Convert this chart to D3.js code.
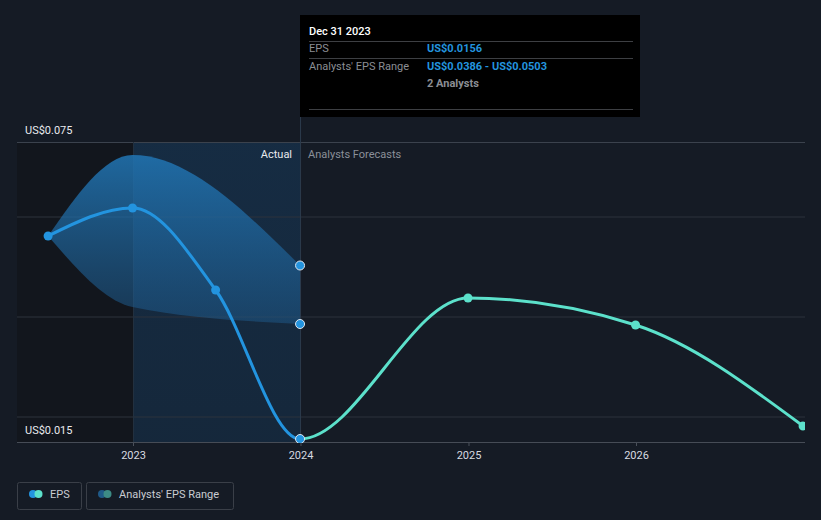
<!DOCTYPE html>
<html>
<head>
<meta charset="utf-8">
<script src="https://cdn.jsdelivr.net/npm/d3@7/dist/d3.min.js"></script>
<style>
  html, body { margin: 0; padding: 0; background: #151b25; }
  svg { display: block; font-family: Roboto, "Open Sans", sans-serif; }
</style>
</head>
<body>
<svg id="chart" width="821" height="520"></svg>
<script>
// ---- data ----
const actualDates = ["2022-06-30", "2022-12-31", "2023-06-30", "2023-12-31"];
const epsActual = [0.0562, 0.0618, 0.0454, 0.0156];
const rangeDates = ["2022-06-30", "2022-12-31", "2023-12-31"];
const rangeLow = [0.0562, 0.0420, 0.0386];
const rangeHigh = [0.0562, 0.0724, 0.0503];
const forecastDates = ["2024-12-31", "2025-12-31", "2026-12-31"];
const epsForecast = [0.0438, 0.0384, 0.0182];
const xTickYears = [2023, 2024, 2025, 2026];
const yLabelValues = [0.075, 0.015];
const gridValues = [0.02, 0.04, 0.06];
const tooltipTitle = "Dec 31 2023";
const tooltipRows = [
  ["EPS", "US$0.0156"],
  ["Analysts' EPS Range", "US$0.0386 - US$0.0503"]
];
const tooltipNote = "2 Analysts";
const legendItems = ["EPS", "Analysts' EPS Range"];

const parse = d3.timeParse("%Y-%m-%d");
const svg = d3.select("#chart");

const x = d3.scaleTime()
  .domain([new Date(2023, 0, 1), new Date(2026, 0, 1)])
  .range([133, 636]);
const y = d3.scaleLinear().domain([0.015, 0.075]).range([442, 142]);
const left = 17, right = 805;
const x2023 = x(new Date(2023, 0, 1));
const xNow = x(parse("2023-12-31"));

const defs = svg.append("defs");
defs.append("clipPath").attr("id", "clip")
  .append("rect").attr("x", left).attr("y", 0).attr("width", right - left).attr("height", 443);
defs.append("clipPath").attr("id", "clipPast")
  .append("rect").attr("x", left).attr("y", 0).attr("width", xNow - left).attr("height", 450);
defs.append("clipPath").attr("id", "clipFuture")
  .append("rect").attr("x", xNow).attr("y", 0).attr("width", right - xNow).attr("height", 450);

const bandGrad = defs.append("linearGradient").attr("id", "bandGrad")
  .attr("x1", 0).attr("y1", 0).attr("x2", 0).attr("y2", 1);
bandGrad.append("stop").attr("offset", "0%").attr("stop-color", "#2176b5").attr("stop-opacity", 0.85);
bandGrad.append("stop").attr("offset", "100%").attr("stop-color", "#1f5f94").attr("stop-opacity", 0.45);

const hiGrad = defs.append("linearGradient").attr("id", "hiGrad")
  .attr("x1", 0).attr("y1", 0).attr("x2", 0).attr("y2", 1);
hiGrad.append("stop").attr("offset", "0%").attr("stop-color", "#16304a").attr("stop-opacity", 0.8);
hiGrad.append("stop").attr("offset", "100%").attr("stop-color", "#15304a").attr("stop-opacity", 0.6);

// dark past region
svg.append("rect").attr("x", left).attr("y", y(0.075)).attr("width", x2023 - left)
  .attr("height", y(0.015) - y(0.075)).attr("fill", "#11151c").attr("opacity", 0.8);
// actual highlight region
svg.append("rect").attr("x", x2023).attr("y", y(0.075)).attr("width", xNow - x2023)
  .attr("height", y(0.015) - y(0.075)).attr("fill", "url(#hiGrad)");

// gridlines
svg.append("g").selectAll("line").data(gridValues).join("line")
  .attr("x1", left).attr("x2", right)
  .attr("y1", d => y(d)).attr("y2", d => y(d))
  .attr("stroke", "#2c323d").attr("stroke-width", 1);
svg.append("line").attr("x1", left).attr("x2", right)
  .attr("y1", y(0.075) + 0.5).attr("y2", y(0.075) + 0.5)
  .attr("stroke", "#3b424d");

// vertical faint line at 2023
svg.append("line").attr("x1", x2023 + 0.5).attr("x2", x2023 + 0.5)
  .attr("y1", y(0.075)).attr("y2", y(0.015))
  .attr("stroke", "#22303f").attr("stroke-width", 1);

// now line
svg.append("line").attr("x1", xNow + 0.5).attr("x2", xNow + 0.5)
  .attr("y1", 15).attr("y2", y(0.015))
  .attr("stroke", "#2c3b4d").attr("stroke-width", 1);

// x axis
const xAxis = d3.axisBottom(x)
  .tickValues(xTickYears.map(yr => new Date(yr, 0, 1)))
  .tickFormat(d3.timeFormat("%Y")).tickSize(4).tickSizeOuter(0);
const ax = svg.append("g").attr("transform", `translate(0,${y(0.015)})`).call(xAxis);
ax.select(".domain").remove();
ax.selectAll(".tick line").attr("stroke", "#4a505a");
ax.selectAll(".tick text").attr("fill", "#d7dae0").attr("font-size", 11).attr("dy", "0.95em")
  .attr("font-family", "Roboto, sans-serif");
svg.append("line").attr("x1", left).attr("x2", right)
  .attr("y1", y(0.015) + 0.5).attr("y2", y(0.015) + 0.5).attr("stroke", "#464c56");

// y labels
svg.append("g").selectAll("text").data(yLabelValues).join("text")
  .attr("x", 25).attr("y", d => y(d) - 8)
  .attr("fill", "#e8eaee").attr("font-size", 11)
  .text(d => "US$" + d3.format(".3f")(d));

// Actual / Analysts Forecasts labels
svg.append("text").attr("x", xNow - 8).attr("y", y(0.075) + 16)
  .attr("text-anchor", "end").attr("fill", "#e8eaee").attr("font-size", 11).text("Actual");
svg.append("text").attr("x", xNow + 8).attr("y", y(0.075) + 16)
  .attr("fill", "#8b9099").attr("font-size", 11).text("Analysts Forecasts");

// band
const g = svg.append("g").attr("clip-path", "url(#clip)");
const bandData = rangeDates.map((d, i) => ({ date: parse(d), lo: rangeLow[i], hi: rangeHigh[i] }));
g.append("path").datum(bandData)
  .attr("d", d3.area().curve(d3.curveMonotoneX)
    .x(d => x(d.date)).y0(d => y(d.lo)).y1(d => y(d.hi)))
  .attr("fill", "url(#bandGrad)");

// lines: one smooth series, coloured by period
const actualData = actualDates.map((d, i) => ({ date: parse(d), v: epsActual[i] }));
const forecastData = forecastDates.map((d, i) => ({ date: parse(d), v: epsForecast[i] }));
const allData = actualData.concat(forecastData);
const line = d3.line().curve(d3.curveMonotoneX).x(d => x(d.date)).y(d => y(d.v));
g.append("path").datum(allData).attr("d", line).attr("clip-path", "url(#clipFuture)")
  .attr("fill", "none").attr("stroke", "#5ce1cb").attr("stroke-width", 3);
g.append("path").datum(allData).attr("d", line).attr("clip-path", "url(#clipPast)")
  .attr("fill", "none").attr("stroke", "#2394df").attr("stroke-width", 3);

// points
g.selectAll(".fp").data(forecastData).join("circle")
  .attr("cx", d => x(d.date)).attr("cy", d => y(d.v)).attr("r", 4.5)
  .attr("fill", "#5ce1cb");
g.selectAll(".ap").data(actualData.slice(0, 3)).join("circle")
  .attr("cx", d => x(d.date)).attr("cy", d => y(d.v)).attr("r", 4.5)
  .attr("fill", "#2394df");
const last = bandData[bandData.length - 1];
g.selectAll(".np").data([last.hi, last.lo, epsActual[epsActual.length - 1]]).join("circle")
  .attr("cx", x(last.date)).attr("cy", d => y(d)).attr("r", 4.5)
  .attr("fill", "#2394df").attr("stroke", "#dfe6ee").attr("stroke-width", 1);

// tooltip
const tt = svg.append("g");
tt.append("rect").attr("x", 300).attr("y", 15).attr("width", 340).attr("height", 102).attr("fill", "#000");
tt.append("text").attr("x", 309).attr("y", 35).attr("fill", "#fff").attr("font-size", 11)
  .attr("font-weight", 500).text(tooltipTitle);
[41.5, 58.5, 109.5].forEach(yy => tt.append("line").attr("x1", 309).attr("x2", 633)
  .attr("y1", yy).attr("y2", yy).attr("stroke", "#3d3f43"));
tooltipRows.forEach((r, i) => {
  const yy = 52 + i * 18;
  tt.append("text").attr("x", 309).attr("y", yy).attr("fill", "#8b8e94").attr("font-size", 11).text(r[0]);
  tt.append("text").attr("x", 427).attr("y", yy).attr("fill", "#2394df").attr("font-size", 11)
    .attr("font-weight", 700).text(r[1]);
});
tt.append("text").attr("x", 427).attr("y", 87).attr("fill", "#8b8e94").attr("font-size", 11)
  .attr("font-weight", 700).text(tooltipNote);

// legend
const lg = svg.append("g");
const legendBoxes = [
  { x: 17.5, w: 64, c1: "#2394df", c2: "#5ce1cb" },
  { x: 86.5, w: 147, c1: "#1f5a88", c2: "#3d8b85" }
];
legendItems.forEach((name, i) => {
  const b = legendBoxes[i];
  lg.append("rect").attr("x", b.x).attr("y", 482.5).attr("width", b.w).attr("height", 27)
    .attr("rx", 2).attr("fill", "none").attr("stroke", "#3a3f48");
  lg.append("circle").attr("cx", b.x + 15.5).attr("cy", 494).attr("r", 4).attr("fill", b.c1);
  lg.append("circle").attr("cx", b.x + 21).attr("cy", 494).attr("r", 4).attr("fill", b.c2);
  lg.append("text").attr("x", b.x + 32.5).attr("y", 498).attr("fill", "#c9ccd2")
    .attr("font-size", 11).text(name);
});
</script>
</body>
</html>
